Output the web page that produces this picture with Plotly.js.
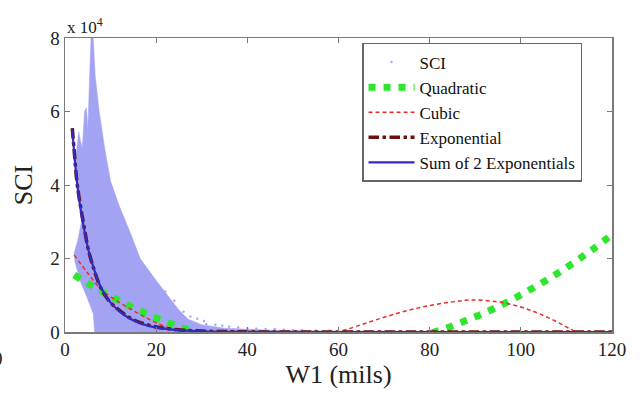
<!DOCTYPE html>
<html>
<head>
<meta charset="utf-8">
<script src="https://cdn.plot.ly/plotly-3.0.1.min.js"></script>
<style>html,body{margin:0;padding:0;background:#fff;}#chart{width:644px;height:397px;}</style>
</head>
<body>
<div id="chart"></div>
<script>
// Values of SCI are in units of 10^4 (as on the axis)
// SCI data cloud (outline of the dense scatter mass)
const sciCloudX = [6.5,6.2,4.8,3.3,2.2,2.0,2.8,3.6,3.1,2.6,2.2,2.6,3.0,3.4,3.8,4.3,4.7,5.0,5.4,5.7,6.2,6.6,7.5,8.7,10,12,14,16.5,20,22.5,25,27,30,35,45,60,120,120];
const sciCloudY = [0,0.5,0.95,1.4,1.9,2.15,2.5,3.0,3.5,4.05,4.6,5.0,5.45,5.2,5.0,6.0,6.1,5.5,6.8,8.0,8.0,7.0,6.0,5.0,4.1,3.4,2.8,2.0,1.4,1.0,0.6,0.35,0.2,0.1,0.05,0.03,0.015,0];
// SCI scattered points (visible individual dots)
const sciX = [26,27.5,29,30.5,31,33,34.5,36,38,40,42,44,46,48,50,52,55,58,61,24,22,19,17,28,32,37];
const sciY = [0.55,0.42,0.36,0.3,0.22,0.2,0.17,0.14,0.12,0.1,0.09,0.08,0.08,0.06,0.05,0.05,0.04,0.04,0.03,0.85,1.1,1.45,1.75,0.25,0.12,0.07];
// Quadratic fit
const quadX = [2,6,10,14,18,22,26,30,40,50,60,70,80,84,88,92,96,100,104,108,112,116,120];
const quadY = [1.55,1.25,0.97,0.72,0.49,0.28,0.10,-0.06,-0.35,-0.50,-0.49,-0.34,-0.04,0.12,0.31,0.52,0.75,1.01,1.29,1.59,1.92,2.27,2.65];
// Cubic fit
const cubX = [2,5,8,11,14,17,20,23,26,30,35,40,45,50,55,60,65,70,75,80,85,89,95,100,104,108,112,116,120];
const cubY = [2.1,1.6,1.15,0.88,0.65,0.44,0.25,0.1,-0.05,-0.22,-0.38,-0.45,-0.42,-0.3,-0.15,0,0.2,0.4,0.58,0.72,0.82,0.87,0.82,0.68,0.5,0.27,0,-0.3,-0.65];
// Exponential fit
const expX = [1.6,2.0,2.6,3.3,4.2,5.2,6.4,7.5,8.5,10,11.8,14,16.2,18.5,21.3,25,30,40,60,80,100,120];
const expY = [5.55,4.95,4.1,3.5,2.85,2.2,1.69,1.3,1.05,0.8,0.6,0.4,0.27,0.18,0.11,0.06,0.025,0.005,0,0,0,0];
// Sum of 2 exponentials fit
const sumX = [1.6,2.0,2.6,3.3,4.2,5.2,6.4,7.5,8.5,10,11.8,14,16.2,18.5,21.3,25,30,40,60,80,100,120];
const sumY = [5.5,4.9,4.1,3.45,2.8,2.2,1.7,1.32,1.07,0.8,0.58,0.38,0.25,0.16,0.1,0.05,0.02,0.004,0,0,0,0];
// Axis ticks
const xTicks = [0,20,40,60,80,100,120];
const yTicks = [0,2,4,6,8];
const yTickText = ['0','2','4','6','8'];

const serif = 'Liberation Serif, Times New Roman, serif';
const sciColor = '#a3a3f3';

const traces = [
  {x: sciCloudX, y: sciCloudY, type: 'scatter', mode: 'lines', fill: 'toself', fillcolor: sciColor,
   line: {width: 0.5, color: sciColor}, showlegend: false, hoverinfo: 'skip', legendgroup: 'cloud'},
  {x: sciX, y: sciY, type: 'scatter', mode: 'markers', name: 'SCI', legendgroup: 'a',
   marker: {size: 2.5, color: '#a8a8f3'}},
  {x: quadX, y: quadY, type: 'scatter', mode: 'lines', name: 'Quadratic', legendgroup: 'b',
   line: {color: '#2ee62e', width: 7, dash: '7px,8px', shape: 'spline'}},
  {x: cubX, y: cubY, type: 'scatter', mode: 'lines', name: 'Cubic', legendgroup: 'c',
   line: {color: '#ee2a2a', width: 1.5, dash: '4px,3px', shape: 'spline'}},
  {x: expX, y: expY, type: 'scatter', mode: 'lines', name: 'Exponential', legendgroup: 'd',
   line: {color: '#6e1010', width: 3.5, dash: 'dashdot', shape: 'spline'}},
  {x: sumX, y: sumY, type: 'scatter', mode: 'lines', name: 'Sum of 2 Exponentials', legendgroup: 'e',
   line: {color: '#2c2cc4', width: 2.2, shape: 'spline'}}
];

const axisCommon = {
  showgrid: false, zeroline: false, showline: true, linecolor: '#7a7a7a', linewidth: 1.5,
  mirror: 'ticks', ticks: 'inside', ticklen: 5, tickcolor: '#7a7a7a', tickwidth: 1,
  tickfont: {family: serif, size: 19, color: '#222'}
};

const layout = {
  width: 644, height: 397,
  margin: {l: 65, r: 32, t: 38, b: 65},
  paper_bgcolor: '#fff', plot_bgcolor: '#fff',
  font: {family: serif, color: '#222'},
  xaxis: Object.assign({}, axisCommon, {
    range: [0, 120], tickvals: xTicks, ticktext: xTicks.map(String),
    title: {text: 'W1 (mils)', font: {family: serif, size: 26, color: '#222'}, standoff: 2}
  }),
  yaxis: Object.assign({}, axisCommon, {
    range: [0, 8], tickvals: yTicks, ticktext: yTickText,
    title: {text: 'SCI', font: {family: serif, size: 26, color: '#222'}, standoff: 10}
  }),
  legend: {
    x: 0.543, y: 0.983, xanchor: 'left', yanchor: 'top',
    bgcolor: '#fff', bordercolor: '#666', borderwidth: 1.5,
    font: {family: serif, size: 17, color: '#111'},
    itemwidth: 46, traceorder: 'grouped', tracegroupgap: 0
  },
  showlegend: true,
  annotations: [
    {xref: 'paper', yref: 'paper', x: 0, y: 1.0, yshift: 12, xanchor: 'left', yanchor: 'middle',
     text: 'x 10<sup>4</sup>', showarrow: false, font: {family: serif, size: 17, color: '#222'}},
    {xref: 'paper', yref: 'paper', x: -0.123, y: -0.09, xanchor: 'center', yanchor: 'middle',
     text: '0', showarrow: false, font: {family: serif, size: 19, color: '#222'}}
  ]
};

Plotly.newPlot('chart', traces, layout, {displayModeBar: false, staticPlot: true});
</script>
</body>
</html>
